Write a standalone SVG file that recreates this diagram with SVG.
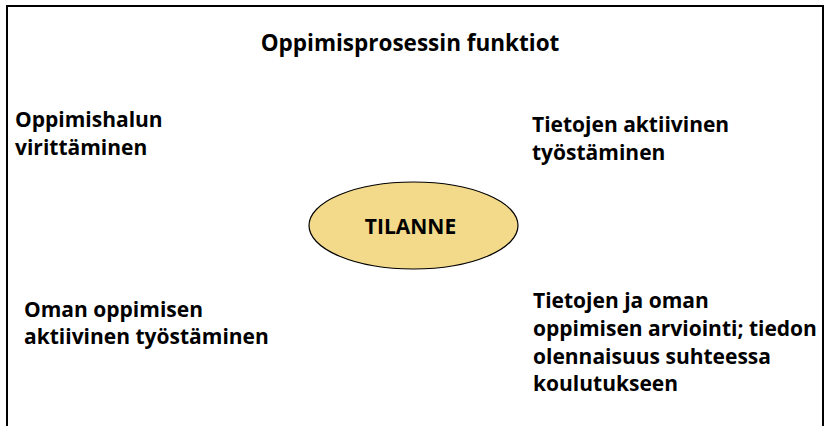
<svg xmlns="http://www.w3.org/2000/svg" width="831" height="426" viewBox="0 0 831 426">
  <style>
    text { font-family: "Open Sans", "Noto Sans", "Liberation Sans", sans-serif; font-weight: 700; fill: #000; }
    .lbl { font-size: 21px; }
    .title { font-size: 22.5px; }
    .frame { fill: none; stroke: #000; stroke-width: 2; }
    .node-shape { fill: #F2DA8A; stroke: #000; stroke-width: 1.2; }
  </style>
  <rect width="831" height="426" fill="#fff"/>
  <!-- open-bottom frame -->
  <path class="frame" d="M7,426 V6 H823 V426"/>
  <g id="title">
    <text class="title" x="410" y="51" text-anchor="middle">Oppimisprosessin funktiot</text>
  </g>
  <g id="connectors"></g>
  <g id="tilanne">
    <ellipse class="node-shape" cx="413.5" cy="225.5" rx="104.5" ry="43.5"/>
    <text class="lbl" x="410.5" y="233.5" text-anchor="middle">TILANNE</text>
  </g>
  <g id="oppimishalu">
    <text class="lbl" x="15" y="127">Oppimishalun</text>
    <text class="lbl" x="15" y="155">virittäminen</text>
  </g>
  <g id="tietojen-tyostaminen">
    <text class="lbl" x="532" y="132">Tietojen aktiivinen</text>
    <text class="lbl" x="532" y="160">työstäminen</text>
  </g>
  <g id="oman-oppimisen">
    <text class="lbl" x="24" y="317">Oman oppimisen</text>
    <text class="lbl" x="24" y="344">aktiivinen työstäminen</text>
  </g>
  <g id="arviointi">
    <text class="lbl" x="533" y="308">Tietojen ja oman</text>
    <text class="lbl" x="533" y="336">oppimisen arviointi; tiedon</text>
    <text class="lbl" x="533" y="364">olennaisuus suhteessa</text>
    <text class="lbl" x="533" y="391">koulutukseen</text>
  </g>
</svg>
